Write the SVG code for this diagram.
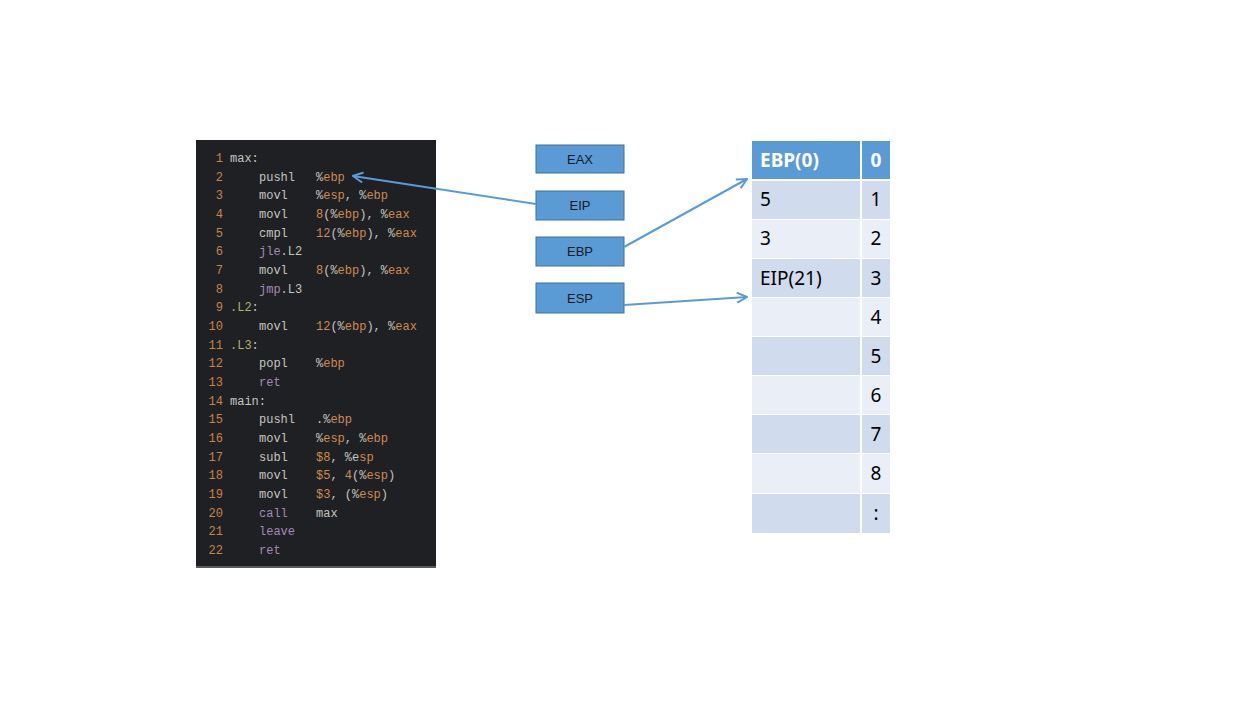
<svg xmlns="http://www.w3.org/2000/svg" width="1260" height="708" viewBox="0 0 1260 708">
<defs>
<style>
.code{font-family:"Liberation Mono","DejaVu Sans Mono",monospace;font-size:12px;white-space:pre}
.n{fill:#c8844b}
.g{fill:#c6c6c0}
.o{fill:#d08a50}
.p{fill:#a788b9}
.l{fill:#aeb46a}
.reg rect{fill:#5b9bd5;stroke:#41719c;stroke-width:1}
.reg text{font-family:"Liberation Sans",Arial,sans-serif;font-size:13px;fill:#1a1a1a;text-anchor:middle}
.cell{font-family:"Noto Sans","Open Sans",sans-serif;font-size:19px;fill:#000}
.hd{font-family:"Noto Sans","Open Sans",sans-serif;font-size:19px;font-weight:bold;fill:#fff}
.dk{fill:#d0dcee}
.lt{fill:#e9eef7}
.conn{stroke:#5b9bd5;stroke-width:2;fill:none}
</style>
<marker id="ah" viewBox="0 0 12 12" refX="11" refY="6" markerWidth="12" markerHeight="12" markerUnits="userSpaceOnUse" orient="auto">
<path d="M1,1 L11,6 L1,11" fill="none" stroke="#5b9bd5" stroke-width="2"/>
</marker>
</defs>
<rect width="1260" height="708" fill="#fff"/>
<g id="code-panel">
<rect x="196" y="140" width="240" height="428" fill="#1f2023"/>
<rect x="196" y="566" width="240" height="2" fill="#5a5b5e"/>
<g class="code">
<text y="162"><tspan class="n" x="223" text-anchor="end">1</tspan><tspan class="g" x="230">max:</tspan></text>
<text y="180.7"><tspan class="n" x="223" text-anchor="end">2</tspan><tspan class="g" x="259">pushl</tspan><tspan class="g" x="316">%</tspan><tspan class="o">ebp</tspan></text>
<text y="199.3"><tspan class="n" x="223" text-anchor="end">3</tspan><tspan class="g" x="259">movl</tspan><tspan class="g" x="316">%</tspan><tspan class="o">esp</tspan><tspan class="g">, %</tspan><tspan class="o">ebp</tspan></text>
<text y="218"><tspan class="n" x="223" text-anchor="end">4</tspan><tspan class="g" x="259">movl</tspan><tspan class="o" x="316">8</tspan><tspan class="g">(%</tspan><tspan class="o">ebp</tspan><tspan class="g">), %</tspan><tspan class="o">eax</tspan></text>
<text y="236.7"><tspan class="n" x="223" text-anchor="end">5</tspan><tspan class="g" x="259">cmpl</tspan><tspan class="o" x="316">12</tspan><tspan class="g">(%</tspan><tspan class="o">ebp</tspan><tspan class="g">), %</tspan><tspan class="o">eax</tspan></text>
<text y="255.3"><tspan class="n" x="223" text-anchor="end">6</tspan><tspan class="p" x="259">jle</tspan><tspan class="g">.L2</tspan></text>
<text y="274"><tspan class="n" x="223" text-anchor="end">7</tspan><tspan class="g" x="259">movl</tspan><tspan class="o" x="316">8</tspan><tspan class="g">(%</tspan><tspan class="o">ebp</tspan><tspan class="g">), %</tspan><tspan class="o">eax</tspan></text>
<text y="292.7"><tspan class="n" x="223" text-anchor="end">8</tspan><tspan class="p" x="259">jmp</tspan><tspan class="g">.L3</tspan></text>
<text y="311.3"><tspan class="n" x="223" text-anchor="end">9</tspan><tspan class="l" x="230">.L2</tspan><tspan class="g">:</tspan></text>
<text y="330"><tspan class="n" x="223" text-anchor="end">10</tspan><tspan class="g" x="259">movl</tspan><tspan class="o" x="316">12</tspan><tspan class="g">(%</tspan><tspan class="o">ebp</tspan><tspan class="g">), %</tspan><tspan class="o">eax</tspan></text>
<text y="348.7"><tspan class="n" x="223" text-anchor="end">11</tspan><tspan class="l" x="230">.L3</tspan><tspan class="g">:</tspan></text>
<text y="367.3"><tspan class="n" x="223" text-anchor="end">12</tspan><tspan class="g" x="259">popl</tspan><tspan class="g" x="316">%</tspan><tspan class="o">ebp</tspan></text>
<text y="386"><tspan class="n" x="223" text-anchor="end">13</tspan><tspan class="p" x="259">ret</tspan></text>
<text y="404.7"><tspan class="n" x="223" text-anchor="end">14</tspan><tspan class="g" x="230">main:</tspan></text>
<text y="423.3"><tspan class="n" x="223" text-anchor="end">15</tspan><tspan class="g" x="259">pushl</tspan><tspan class="g" x="316">.%</tspan><tspan class="o">ebp</tspan></text>
<text y="442"><tspan class="n" x="223" text-anchor="end">16</tspan><tspan class="g" x="259">movl</tspan><tspan class="g" x="316">%</tspan><tspan class="o">esp</tspan><tspan class="g">, %</tspan><tspan class="o">ebp</tspan></text>
<text y="460.7"><tspan class="n" x="223" text-anchor="end">17</tspan><tspan class="g" x="259">subl</tspan><tspan class="o" x="316">$8</tspan><tspan class="g">, %e</tspan><tspan class="o">sp</tspan></text>
<text y="479.3"><tspan class="n" x="223" text-anchor="end">18</tspan><tspan class="g" x="259">movl</tspan><tspan class="o" x="316">$5</tspan><tspan class="g">, </tspan><tspan class="o">4</tspan><tspan class="g">(%</tspan><tspan class="o">esp</tspan><tspan class="g">)</tspan></text>
<text y="498"><tspan class="n" x="223" text-anchor="end">19</tspan><tspan class="g" x="259">movl</tspan><tspan class="o" x="316">$3</tspan><tspan class="g">, (%</tspan><tspan class="o">esp</tspan><tspan class="g">)</tspan></text>
<text y="516.7"><tspan class="n" x="223" text-anchor="end">20</tspan><tspan class="p" x="259">call</tspan><tspan class="g" x="316">max</tspan></text>
<text y="535.3"><tspan class="n" x="223" text-anchor="end">21</tspan><tspan class="p" x="259">leave</tspan></text>
<text y="554"><tspan class="n" x="223" text-anchor="end">22</tspan><tspan class="p" x="259">ret</tspan></text>
</g>
</g>
<g id="reg-eax" class="reg"><rect x="536" y="145" width="88" height="28"/><text x="580" y="164">EAX</text></g>
<g id="reg-eip" class="reg"><rect x="536" y="191" width="88" height="29"/><text x="580" y="210">EIP</text></g>
<g id="reg-ebp" class="reg"><rect x="536" y="237" width="88" height="29"/><text x="580" y="256">EBP</text></g>
<g id="reg-esp" class="reg"><rect x="536" y="283" width="88" height="30"/><text x="580" y="303">ESP</text></g>
<g id="stack">
<rect x="752" y="141" width="108" height="38" fill="#5b9bd5"/><rect x="862" y="141" width="28" height="38" fill="#5b9bd5"/>
<text class="hd" x="760" y="167">EBP(0)</text><text class="hd" x="876" y="167" text-anchor="middle">0</text>
<rect class="dk" x="752" y="181" width="108" height="38"/><rect class="dk" x="862" y="181" width="28" height="38"/>
<text class="cell" x="760" y="206">5</text><text class="cell" x="876" y="206" text-anchor="middle">1</text>
<rect class="lt" x="752" y="220" width="108" height="38"/><rect class="lt" x="862" y="220" width="28" height="38"/>
<text class="cell" x="760" y="245">3</text><text class="cell" x="876" y="245" text-anchor="middle">2</text>
<rect class="dk" x="752" y="259" width="108" height="38"/><rect class="dk" x="862" y="259" width="28" height="38"/>
<text class="cell" x="760" y="285">EIP(21)</text><text class="cell" x="876" y="285" text-anchor="middle">3</text>
<rect class="lt" x="752" y="298" width="108" height="38"/><rect class="lt" x="862" y="298" width="28" height="38"/>
<text class="cell" x="876" y="324" text-anchor="middle">4</text>
<rect class="dk" x="752" y="337" width="108" height="38"/><rect class="dk" x="862" y="337" width="28" height="38"/>
<text class="cell" x="876" y="363" text-anchor="middle">5</text>
<rect class="lt" x="752" y="376" width="108" height="38"/><rect class="lt" x="862" y="376" width="28" height="38"/>
<text class="cell" x="876" y="402" text-anchor="middle">6</text>
<rect class="dk" x="752" y="415" width="108" height="38"/><rect class="dk" x="862" y="415" width="28" height="38"/>
<text class="cell" x="876" y="441" text-anchor="middle">7</text>
<rect class="lt" x="752" y="454" width="108" height="39"/><rect class="lt" x="862" y="454" width="28" height="39"/>
<text class="cell" x="876" y="480" text-anchor="middle">8</text>
<rect class="dk" x="752" y="494" width="108" height="39"/><rect class="dk" x="862" y="494" width="28" height="39"/>
<text class="cell" x="876" y="520" text-anchor="middle">:</text>
</g>
<g id="connectors">
<line class="conn" x1="536" y1="204" x2="353" y2="176" marker-end="url(#ah)"/>
<line class="conn" x1="624" y1="247" x2="747" y2="179" marker-end="url(#ah)"/>
<line class="conn" x1="624" y1="305" x2="747" y2="297" marker-end="url(#ah)"/>
</g>
</svg>
